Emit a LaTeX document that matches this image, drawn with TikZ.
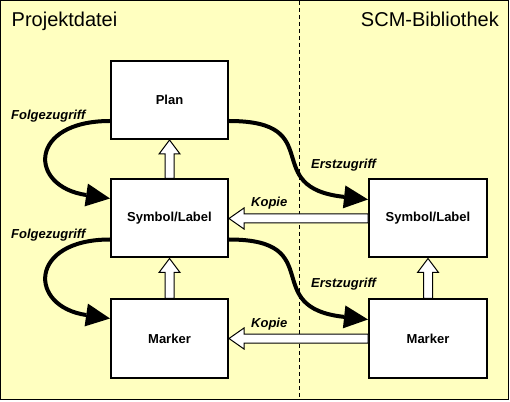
\documentclass[tikz,border=0pt]{standalone}
\usepackage{fontspec}
\setmainfont{Liberation Sans}
\usetikzlibrary{arrows.meta,calc}
\definecolor{bgyellow}{HTML}{FFFFC0}
\tikzset{
  box/.style={draw=black, line width=2pt, fill=white, minimum width=117pt, minimum height=78pt, inner sep=0pt,
    font=\fontsize{13}{15}\selectfont\bfseries},
  hollow/.style={draw=black, line width=1pt, fill=white, line join=miter},
  access/.style={line width=4pt, -{Triangle[length=24pt 0 0,width=23pt 0 0,line width=0pt]}},
  lbl/.style={font=\fontsize{13}{15}\selectfont\bfseries\itshape, inner sep=0pt, anchor=base west},
  header/.style={font=\fontsize{20}{24}\selectfont, inner sep=0pt},
}
\begin{document}
\begin{tikzpicture}[x=1pt,y=1pt]
\useasboundingbox (0,0) rectangle (510,401);
\draw[fill=bgyellow, line width=1pt] (0.5,1.5) rectangle (508.5,400.5);
\coordinate (dtop) at (299.5,400);
\coordinate (dbot) at (299.5,2);
\draw[line width=1pt, dash pattern=on 4pt off 3pt] (dtop) -- (dbot);

\node[header, anchor=base west] (hl) at (11.5,374.4) {Projektdatei};
\node[header, anchor=base east] (hr) at (499,374.4) {SCM-Bibliothek};

\node[box] (plan) at (169.5,301) {Plan};
\node[box] (slL) at (169.5,182.5) {Symbol/Label};
\node[box] (mkL) at (169.5,62.5) {Marker};
\node[box, minimum width=118pt] (slR) at (428,182.5) {Symbol/Label};
\node[box, minimum width=118pt] (mkR) at (428,62.5) {Marker};

% hollow vertical arrows
\draw[hollow] ($(slL.north)+(-4.5,0)$) -- ($(plan.south)+(-4.5,-14)$) -- ($(plan.south)+(-10.5,-14)$) -- (plan.south) -- ($(plan.south)+(10.5,-14)$) -- ($(plan.south)+(4.5,-14)$) -- ($(slL.north)+(4.5,0)$) -- cycle;
\draw[hollow] ($(mkL.north)+(-4.5,0)$) -- ($(slL.south)+(-4.5,-14)$) -- ($(slL.south)+(-10.5,-14)$) -- (slL.south) -- ($(slL.south)+(10.5,-14)$) -- ($(slL.south)+(4.5,-14)$) -- ($(mkL.north)+(4.5,0)$) -- cycle;
\draw[hollow] ($(mkR.north)+(-4.5,0)$) -- ($(slR.south)+(-4.5,-14)$) -- ($(slR.south)+(-10.5,-14)$) -- (slR.south) -- ($(slR.south)+(10.5,-14)$) -- ($(slR.south)+(4.5,-14)$) -- ($(mkR.north)+(4.5,0)$) -- cycle;

% hollow horizontal arrows (Kopie)
\draw[hollow] ($(slR.west)+(0,4.5)$) -- ($(slL.east)+(15,4.5)$) -- ($(slL.east)+(15,10.5)$) -- (slL.east) -- ($(slL.east)+(15,-10.5)$) -- ($(slL.east)+(15,-4.5)$) -- ($(slR.west)+(0,-4.5)$) -- cycle;
\draw[hollow] ($(mkR.west)+(0,4.5)$) -- ($(mkL.east)+(15,4.5)$) -- ($(mkL.east)+(15,10.5)$) -- (mkL.east) -- ($(mkL.east)+(15,-10.5)$) -- ($(mkL.east)+(15,-4.5)$) -- ($(mkR.west)+(0,-4.5)$) -- cycle;

% thick access arrows
\draw[access] ([yshift=-21pt]plan.west) .. controls +(-82,0) and +(-82,12) .. ([yshift=20pt]slL.west);
\draw[access] ([yshift=-21pt]slL.west) .. controls +(-82,0) and +(-82,12) .. ([yshift=20pt]mkL.west);
\draw[access] ([yshift=-21pt]plan.east) .. controls +(100,0) and +(-110,12) .. ([yshift=19pt]slR.west);
\draw[access] ([yshift=-21pt]slL.east) .. controls +(100,0) and +(-110,12) .. ([yshift=19pt]mkR.west);

% labels
\node[lbl] (f1) at (11,281.7) {Folgezugriff};
\node[lbl] (f2) at (11,162) {Folgezugriff};
\node[lbl] (e1) at (311,232) {Erstzugriff};
\node[lbl] (e2) at (311,113) {Erstzugriff};
\node[lbl] (k1) at (251,194) {Kopie};
\node[lbl] (k2) at (251,74) {Kopie};
\end{tikzpicture}
\end{document}
